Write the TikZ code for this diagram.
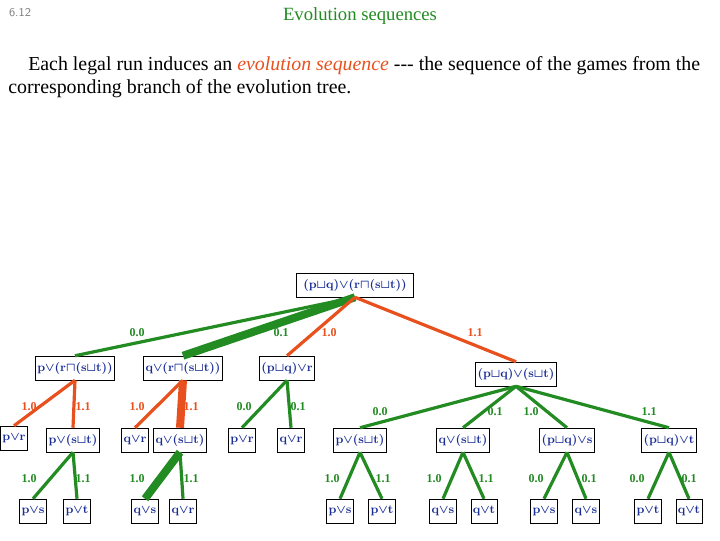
\documentclass[tikz,border=0pt]{standalone}
\usepackage{fontspec}
\setmainfont{Liberation Serif}
\usepackage{amssymb}
\begin{document}
\begin{tikzpicture}[x=0.75pt,y=-0.75pt,
 bx/.style={draw,thin,fill=white,text=navy,font=\fontsize{9.5}{11}\selectfont\boldmath,inner sep=1.5pt,minimum height=18pt},
 gr/.style={draw=grn,line width=2.4pt},
 rd/.style={draw=org,line width=2.4pt},
 lg/.style={text=grn,font=\fontsize{9}{10}\selectfont\bfseries},
 lr/.style={text=org,font=\fontsize{9}{10}\selectfont\bfseries}]
\definecolor{grn}{RGB}{34,139,34}
\definecolor{org}{RGB}{232,80,30}
\definecolor{navy}{RGB}{25,45,150}
\useasboundingbox (0,0) rectangle (720,540);
\node[text=gray,font=\sffamily\small] (num) at (20,13) {6.12};
\node[text=grn,font=\fontsize{14}{16}\selectfont] (title) at (360,16) {Evolution sequences};
\node[anchor=west,font=\fontsize{14.9}{17}\selectfont,inner sep=0] (l1) at (28,66) {Each legal run induces an \textcolor{org}{\itshape evolution sequence} {-}{-}{-} the sequence of the games from the};
\node[anchor=west,font=\fontsize{14.9}{17}\selectfont,inner sep=0] (l2) at (8,89) {corresponding branch of the evolution tree.};
% nodes
\node[bx,minimum width=88pt] (r) at (355,285) {$(\mathbf{p}{\sqcup}\mathbf{q}){\vee}(\mathbf{r}{\sqcap}(\mathbf{s}{\sqcup}\mathbf{t}))$};
\node[bx] (a) at (75,368) {$\mathbf{p}{\vee}(\mathbf{r}{\sqcap}(\mathbf{s}{\sqcup}\mathbf{t}))$};
\node[bx] (b) at (183,368) {$\mathbf{q}{\vee}(\mathbf{r}{\sqcap}(\mathbf{s}{\sqcup}\mathbf{t}))$};
\node[bx] (c) at (287,368) {$(\mathbf{p}{\sqcup}\mathbf{q}){\vee}\mathbf{r}$};
\node[bx] (d) at (516,374) {$(\mathbf{p}{\sqcup}\mathbf{q}){\vee}(\mathbf{s}{\sqcup}\mathbf{t})$};
\node[bx] (a1) at (14,438) {$\mathbf{p}{\vee}\mathbf{r}$};
\node[bx] (a2) at (73,440) {$\mathbf{p}{\vee}(\mathbf{s}{\sqcup}\mathbf{t})$};
\node[bx] (b1) at (135,440) {$\mathbf{q}{\vee}\mathbf{r}$};
\node[bx] (b2) at (180,440) {$\mathbf{q}{\vee}(\mathbf{s}{\sqcup}\mathbf{t})$};
\node[bx] (c1) at (242,440) {$\mathbf{p}{\vee}\mathbf{r}$};
\node[bx] (c2) at (291,440) {$\mathbf{q}{\vee}\mathbf{r}$};
\node[bx] (d1) at (360,440) {$\mathbf{p}{\vee}(\mathbf{s}{\sqcup}\mathbf{t})$};
\node[bx] (d2) at (463,440) {$\mathbf{q}{\vee}(\mathbf{s}{\sqcup}\mathbf{t})$};
\node[bx] (d3) at (567,440) {$(\mathbf{p}{\sqcup}\mathbf{q}){\vee}\mathbf{s}$};
\node[bx] (d4) at (669,440) {$(\mathbf{p}{\sqcup}\mathbf{q}){\vee}\mathbf{t}$};
\node[bx] (a21) at (33,511) {$\mathbf{p}{\vee}\mathbf{s}$};
\node[bx] (a22) at (77,511) {$\mathbf{p}{\vee}\mathbf{t}$};
\node[bx] (b21) at (145,511) {$\mathbf{q}{\vee}\mathbf{s}$};
\node[bx] (b22) at (183,511) {$\mathbf{q}{\vee}\mathbf{r}$};
\node[bx] (d11) at (340,511) {$\mathbf{p}{\vee}\mathbf{s}$};
\node[bx] (d12) at (382,511) {$\mathbf{p}{\vee}\mathbf{t}$};
\node[bx] (d21) at (443,511) {$\mathbf{q}{\vee}\mathbf{s}$};
\node[bx] (d22) at (484,511) {$\mathbf{q}{\vee}\mathbf{t}$};
\node[bx] (d31) at (544,511) {$\mathbf{p}{\vee}\mathbf{s}$};
\node[bx] (d32) at (586,511) {$\mathbf{q}{\vee}\mathbf{s}$};
\node[bx] (d41) at (648,511) {$\mathbf{p}{\vee}\mathbf{t}$};
\node[bx] (d42) at (689,511) {$\mathbf{q}{\vee}\mathbf{t}$};
\draw[gr] (r.south) -- (a.north);
\draw[draw=grn,line width=6pt] (r.south) -- (b.north);
\draw[rd] (r.south) -- (c.north);
\draw[rd] (r.south) -- (d.north);
\draw[rd] (a.south) -- (a1.north);
\draw[rd] (a.south) -- (a2.north);
\draw[rd] (b.south) -- (b1.north);
\draw[draw=org,line width=6pt] (b.south) -- (b2.north);
\draw[gr] (c.south) -- (c1.north);
\draw[gr] (c.south) -- (c2.north);
\draw[gr] (d.south) -- (d1.north);
\draw[gr] (d.south) -- (d2.north);
\draw[gr] (d.south) -- (d3.north);
\draw[gr] (d.south) -- (d4.north);
\draw[gr] (a2.south) -- (a21.north);
\draw[gr] (a2.south) -- (a22.north);
\draw[draw=grn,line width=6pt] (b2.south) -- (b21.north);
\draw[gr] (b2.south) -- (b22.north);
\draw[gr] (d1.south) -- (d11.north);
\draw[gr] (d1.south) -- (d12.north);
\draw[gr] (d2.south) -- (d21.north);
\draw[gr] (d2.south) -- (d22.north);
\draw[gr] (d3.south) -- (d31.north);
\draw[gr] (d3.south) -- (d32.north);
\draw[gr] (d4.south) -- (d41.north);
\draw[gr] (d4.south) -- (d42.north);
% labels
\node[lg] (e1) at (137,333) {0.0};
\node[lg] (e2) at (281,333) {0.1};
\node[lr] (e3) at (329,333) {1.0};
\node[lr] (e4) at (475,333) {1.1};
\node[lr] (f1) at (29,407) {1.0};
\node[lr] (f2) at (83,407) {1.1};
\node[lr] (f3) at (137,407) {1.0};
\node[lr] (f4) at (191,407) {1.1};
\node[lg] (f5) at (244,407) {0.0};
\node[lg] (f6) at (298,407) {0.1};
\node[lg] (f7) at (380,412) {0.0};
\node[lg] (f8) at (495,412) {0.1};
\node[lg] (f9) at (531,412) {1.0};
\node[lg] (f10) at (649,412) {1.1};
\node[lg] (g1) at (29,479) {1.0};
\node[lg] (g2) at (83,479) {1.1};
\node[lg] (g3) at (137,479) {1.0};
\node[lg] (g4) at (191,479) {1.1};
\node[lg] (g5) at (332,479) {1.0};
\node[lg] (g6) at (383,479) {1.1};
\node[lg] (g7) at (434,479) {1.0};
\node[lg] (g8) at (486,479) {1.1};
\node[lg] (g9) at (536,479) {0.0};
\node[lg] (g10) at (589,479) {0.1};
\node[lg] (g11) at (637,479) {0.0};
\node[lg] (g12) at (689,479) {0.1};
\end{tikzpicture}
\end{document}
